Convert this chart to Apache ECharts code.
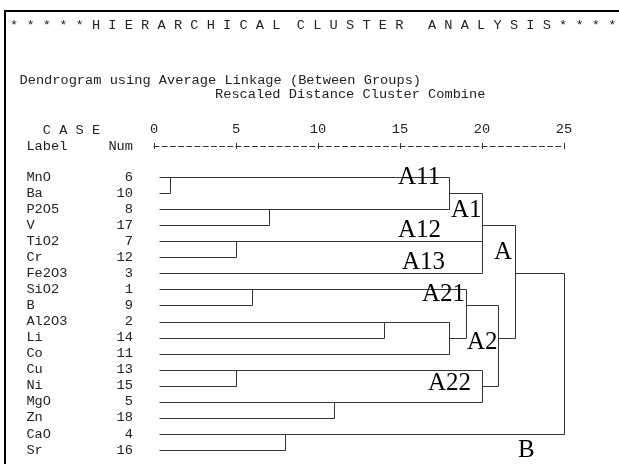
<!DOCTYPE html>
<html><head><meta charset="utf-8">
<script src="https://cdn.jsdelivr.net/npm/echarts@6.0.0/dist/echarts.min.js"></script>
<style>html,body{margin:0;padding:0;background:#fff}#c{width:619px;height:464px}</style>
</head><body><div id="c"></div>
<script>
// ---- data ----
const caseLabels = ['MnO','Ba','P2O5','V','TiO2','Cr','Fe2O3','SiO2','B','Al2O3','Li','Co','Cu','Ni','MgO','Zn','CaO','Sr'];
const caseNums = [6,10,8,17,7,12,3,1,9,2,14,11,13,15,5,18,4,16];
// agglomeration schedule: members (case label or '#k' = earlier merge k)
const mergeMembers = [
  ['MnO','Ba'], ['TiO2','Cr'], ['Cu','Ni'], ['SiO2','B'], ['P2O5','V'], ['CaO','Sr'],
  ['MgO','Zn'], ['Al2O3','Li'], ['#7','Co'], ['#0','#4'], ['#3','#8'], ['#9','#1','Fe2O3'],
  ['#2','#6'], ['#10','#12'], ['#11','#13'], ['#14','#5']
];
const mergeDist = [1,5,5,6,7,8,11,14,18,18,19,20,20,21,22,25];
const axisTicks = [0,5,10,15,20,25];
const clusterNames = ['A11','A1','A12','A13','A','A21','A2','A22','B'];

const MONO = "'Liberation Mono','DejaVu Sans Mono',monospace";
const SERIF = "'Liberation Serif','DejaVu Serif',serif";
const FS = 13.67;
const TXT = '#222';
const LINE = '#333';
const LEAF_START = 0.3;

// ---- build dendrogram segments from the schedule ----
const nodes = {};
caseLabels.forEach((n, i) => nodes[n] = {row: i, d: LEAF_START});
const segs = [];
mergeMembers.forEach((mem, k) => {
  const d = mergeDist[k];
  let lo = Infinity, hi = -Infinity;
  mem.forEach(m => {
    const c = nodes[m];
    segs.push([c.d, c.row, d, c.row]);
    lo = Math.min(lo, c.row); hi = Math.max(hi, c.row);
  });
  segs.push([d, lo, d, hi]);
  nodes['#' + k] = {row: Math.floor((lo + hi) / 2), d: d};
});

const chart = echarts.init(document.getElementById('c'), null, {renderer: 'canvas'});

const annPos = [[398,177],[451,210],[398,230],[402,262],[494,252],[422,294],[467,342],[428,383],[518,450]];

const graphics = [
  {type:'rect', shape:{x:5, y:11, width:700, height:600}, style:{fill:'none', stroke:'#000', lineWidth:2}, silent:true},
  {type:'text', x:10, y:25, style:{text:'* * * * * H I E R A R C H I C A L  C L U S T E R   A N A L Y S I S * * * *', font:FS+'px '+MONO, fill:TXT, verticalAlign:'middle'}},
  {type:'text', x:19.5, y:80, style:{text:'Dendrogram using Average Linkage (Between Groups)', font:FS+'px '+MONO, fill:TXT, verticalAlign:'middle'}},
  {type:'text', x:215, y:94, style:{text:'Rescaled Distance Cluster Combine', font:FS+'px '+MONO, fill:TXT, verticalAlign:'middle'}},
  {type:'text', x:42.8, y:130, style:{text:'C A S E', font:FS+'px '+MONO, fill:TXT, verticalAlign:'middle'}},
  {type:'text', x:26.4, y:146, style:{text:'Label', font:FS+'px '+MONO, fill:TXT, verticalAlign:'middle'}},
  {type:'text', x:108.4, y:146, style:{text:'Num', font:FS+'px '+MONO, fill:TXT, verticalAlign:'middle'}}
];
clusterNames.forEach((nm, i) => {
  graphics.push({type:'text', x:annPos[i][0], y:annPos[i][1], z:10,
    style:{text:nm, font:'25px '+SERIF, fill:'#000', verticalAlign:'middle'}});
});

chart.setOption({
  backgroundColor: '#fff',
  animation: false,
  grid: {left:154, top:177, width:410, height:273, outerBoundsMode:'none'},
  xAxis: [
    {type:'value', min:0, max:25, interval:5, position:'top', offset:31,
     axisLine:{show:true, onZero:false, lineStyle:{color:'#333', width:1, type:[5,3.2]}},
     axisTick:{show:true, inside:false, length:3, lineStyle:{color:'#333'}},
     axisLabel:{show:true, margin:10, showMinLabel:true, showMaxLabel:true, fontFamily:MONO, fontSize:FS, color:TXT,
       formatter: v => axisTicks.indexOf(v) >= 0 ? String(v) : ''},
     splitLine:{show:false}},
    {type:'value', min:0, max:25, interval:5, position:'top', offset:31,
     axisLine:{show:false, onZero:false}, axisTick:{show:true, inside:true, length:3, lineStyle:{color:'#333'}},
     axisLabel:{show:false}, splitLine:{show:false}}
  ],
  yAxis: [
    {type:'value', min:0, max:17, inverse:true, show:false, position:'left'},
    {type:'category', data:caseLabels, inverse:true, boundaryGap:false, position:'left',
     axisLine:{show:false, onZero:false}, axisTick:{show:false}, splitLine:{show:false},
     axisLabel:{interval:0, align:'left', margin:127.6, fontFamily:MONO, fontSize:FS, color:TXT,
       formatter:(v, i) => '{n|' + v + '}{v|' + caseNums[i] + '}',
       rich:{n:{width:82, align:'left', fontFamily:MONO, fontSize:FS, color:TXT},
             v:{width:24.6, align:'right', fontFamily:MONO, fontSize:FS, color:TXT}}}}
  ],
  series: [{
    type:'custom', xAxisIndex:0, yAxisIndex:0, data:segs, encode:{x:[0,2], y:[1,3]}, silent:true, clip:false,
    renderItem: (params, api) => {
      const p1 = api.coord([api.value(0), api.value(1)]);
      const p2 = api.coord([api.value(2), api.value(3)]);
      const s = v => Math.round(v) + 0.5;
      return {type:'line', shape:{x1:s(p1[0]), y1:s(p1[1]), x2:s(p2[0]), y2:s(p2[1])},
              style:{stroke:LINE, lineWidth:1}};
    }
  }],
  graphic: graphics
});
</script></body></html>
